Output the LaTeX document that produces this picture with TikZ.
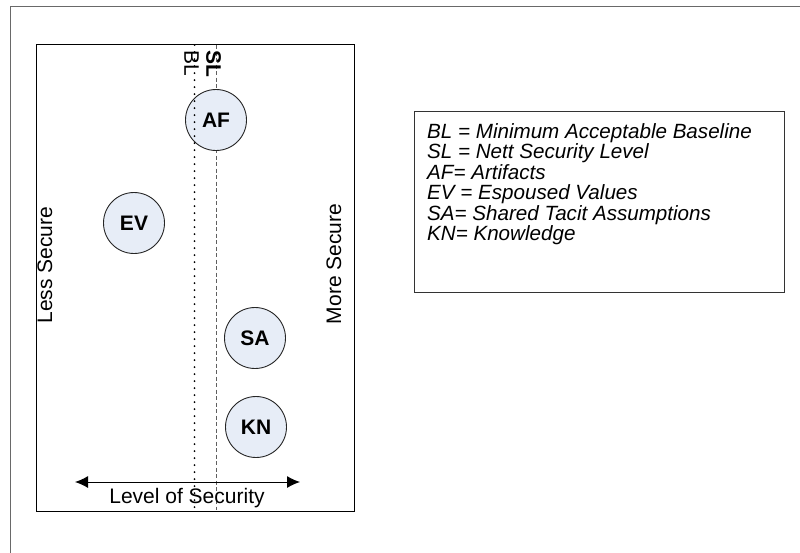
\documentclass[tikz,border=0pt]{standalone}
\usepackage{fontspec}
\setmainfont{Liberation Sans}
\usetikzlibrary{arrows.meta}
\definecolor{bubblefill}{RGB}{231,237,247}
\definecolor{framegray}{RGB}{105,105,105}
\definecolor{dashgray}{RGB}{95,95,95}
\begin{document}
\begin{tikzpicture}[x=1pt,y=-1pt,
  every node/.style={inner sep=0pt, font=\fontsize{21}{22}\selectfont},
  panelbox/.style={draw=black, line width=1pt, rectangle, anchor=north west},
  bubble/.style={circle, draw=black!85, line width=0.9pt, fill=bubblefill,
    minimum size=61pt, font=\fontsize{21}{22}\selectfont\bfseries},
  baseline line/.style={line width=2pt, line cap=round, dash pattern=on 0pt off 7pt},
  level line/.style={dashgray, line width=1pt, dash pattern=on 4pt off 2.5pt},
  scale arrow/.style={line width=1pt,
    {Latex[length=13pt,width=12pt]}-{Latex[length=13pt,width=12pt]}},
  legendtext/.style={anchor=north west, align=left,
    font=\fontsize{20.6}{20.5}\selectfont\itshape}]
\useasboundingbox (0,0) rectangle (800,552);

% outer frame, only its top and left edges fall on the page
\begin{scope}
  \clip (0,0) rectangle (800,552);
  \draw[framegray, line width=1pt] (10,6) rectangle (830,580);
\end{scope}

% main panel
\node[panelbox, minimum width=318pt, minimum height=467pt] (panel) at (36,44) {};

% reference lines
\coordinate (blTop) at (194.5,45);
\coordinate (blBot) at (194.5,510);
\coordinate (slTop) at (216,45);
\coordinate (slBot) at (216,510);
\draw[level line] (slTop) -- (slBot);

% culture levels
\node[bubble] (AF) at (216,120) {AF};
\node[bubble] (EV) at (134,223) {EV};
\node[bubble] (SA) at (255,338) {SA};
\node[bubble] (KN) at (256,427) {KN};

\draw[baseline line] (blTop) -- (blBot);

% line labels
\node[rotate=-90] (blLabel) at (191.5,63) {BL};
\node[rotate=-90, font=\fontsize{21}{22}\selectfont\bfseries] (slLabel) at (213.5,64) {SL};

% side labels
\node[rotate=90] (less) at (45,265) {Less Secure};
\node[rotate=90] (more) at (334,264) {More Secure};

% security scale
\coordinate (arrL) at (75,482);
\coordinate (arrR) at (300,482);
\draw[scale arrow] (arrL) -- (arrR);
\node (scaleLabel) at (187,498) {Level of Security};

% legend
\node[draw=black!80, line width=1pt, rectangle, anchor=north west,
  minimum width=370pt, minimum height=181pt] (legend) at (414,111) {};
\node[legendtext] (legendText) at (427,123) {BL = Minimum Acceptable Baseline\\
SL = Nett Security Level\\
AF= Artifacts\\
EV = Espoused Values\\
SA= Shared Tacit Assumptions\\
KN= Knowledge};
\end{tikzpicture}
\end{document}
